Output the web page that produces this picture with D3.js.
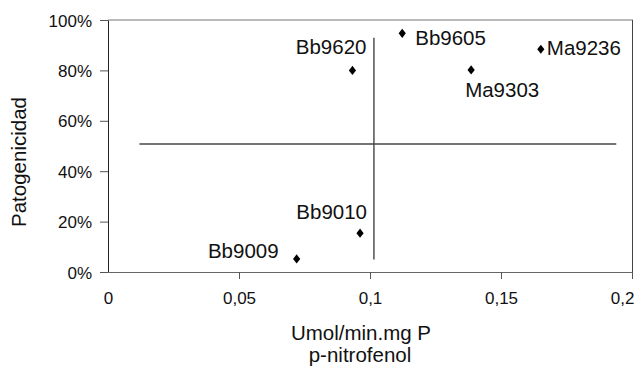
<!DOCTYPE html>
<html><head><meta charset="utf-8">
<script src="https://cdn.jsdelivr.net/npm/d3@7"></script>
<style>body{margin:0;background:#fff}text{font-family:"Liberation Sans",Arial,sans-serif;fill:#111}</style>
</head><body><svg id="c" width="635" height="366"></svg>
<script>
const strains = ["Bb9605","Ma9236","Ma9303","Bb9620","Bb9010","Bb9009"];
const activity = [0.1123,0.1652,0.1386,0.0933,0.0962,0.0720];
const pathogenicity = [0.947,0.884,0.802,0.800,0.154,0.052];
const xTicks = [0,0.05,0.1,0.15,0.2];
const xTickLabels = ["0","0,05","0,1","0,15","0,2"];
const yTicks = [0,0.2,0.4,0.6,0.8,1];
const yTickLabels = ["0%","20%","40%","60%","80%","100%"];
const hLine = {x1:0.012,x2:0.194,y:0.508};
const vLine = {x:0.1015,y1:0.05,y2:0.93};
// label placement: [anchor, dx, dy]
const labelPos = [["start",13,12],["start",6,6],["start",-6,27],["end",14,-16],["end",7,-14],["end",-18,-1]];

const svg = d3.select("#c");
const L=108,R=632,T=20,B=272;
const x = d3.scaleLinear().domain([0,0.2]).range([L,R]);
const y = d3.scaleLinear().domain([0,1]).range([B,T]);

// frame
svg.append("line").attr("x1",L).attr("x2",R+1).attr("y1",T).attr("y2",T).attr("stroke","#777");
svg.append("line").attr("x1",R+0.5).attr("x2",R+0.5).attr("y1",T).attr("y2",B).attr("stroke","#444");

// y axis
const yAxis = svg.append("g").attr("transform",`translate(${L},0)`)
  .call(d3.axisLeft(y).tickValues(yTicks).tickSize(8).tickSizeOuter(0).tickFormat((d,i)=>yTickLabels[i]));
yAxis.select(".domain").attr("stroke","#222");
yAxis.selectAll(".tick line").attr("stroke","#555");
yAxis.selectAll("text").attr("font-size","17px").attr("x",-16).attr("dy","0.36em").style("fill","#111");

// x axis
const xAxis = svg.append("g").attr("transform",`translate(0,${B})`)
  .call(d3.axisBottom(x).tickValues(xTicks).tickSize(7).tickSizeOuter(0).tickFormat((d,i)=>xTickLabels[i]));
xAxis.select(".domain").attr("stroke","#666");
xAxis.selectAll(".tick line").attr("stroke","#555").filter(d=>d===0).remove();
xAxis.selectAll("text").attr("font-size","17px").attr("y",20).attr("dy","0.71em").style("fill","#111");
xAxis.selectAll("text").filter(d=>d===0.2).attr("text-anchor","end").attr("x",2);

// reference lines
svg.append("line").attr("x1",x(hLine.x1)).attr("x2",x(hLine.x2)).attr("y1",y(hLine.y)).attr("y2",y(hLine.y))
  .attr("stroke","#444").attr("stroke-width",1.4);
svg.append("line").attr("x1",x(vLine.x)).attr("x2",x(vLine.x)).attr("y1",y(vLine.y1)).attr("y2",y(vLine.y2))
  .attr("stroke","#444").attr("stroke-width",1.4);

// diamonds
const diamond = {draw(ctx,size){const w=3.6,h=4.6;ctx.moveTo(0,-h);ctx.lineTo(w,0);ctx.lineTo(0,h);ctx.lineTo(-w,0);ctx.closePath();}};
const pts = strains.map((s,i)=>({s,x:activity[i],y:pathogenicity[i],lp:labelPos[i]}));
svg.selectAll("path.pt").data(pts).join("path").attr("class","pt")
  .attr("d",d3.symbol().type(diamond).size(40))
  .attr("transform",d=>`translate(${x(d.x)},${y(d.y)})`).attr("fill","#000");
svg.selectAll("text.lbl").data(pts).join("text").attr("class","lbl")
  .attr("x",d=>x(d.x)+d.lp[1]).attr("y",d=>y(d.y)+d.lp[2])
  .attr("text-anchor",d=>d.lp[0]).attr("font-size","20.5px").text(d=>d.s);

// axis titles
svg.append("text").attr("text-anchor","middle").attr("font-size","20.5px")
  .attr("transform","translate(26,162) rotate(-90)").text("Patogenicidad");
svg.append("text").attr("text-anchor","middle").attr("font-size","20.5px").attr("x",361).attr("y",340).text("Umol/min.mg P");
svg.append("text").attr("text-anchor","middle").attr("font-size","20.5px").attr("x",360).attr("y",362).text("p-nitrofenol");
</script></body></html>
